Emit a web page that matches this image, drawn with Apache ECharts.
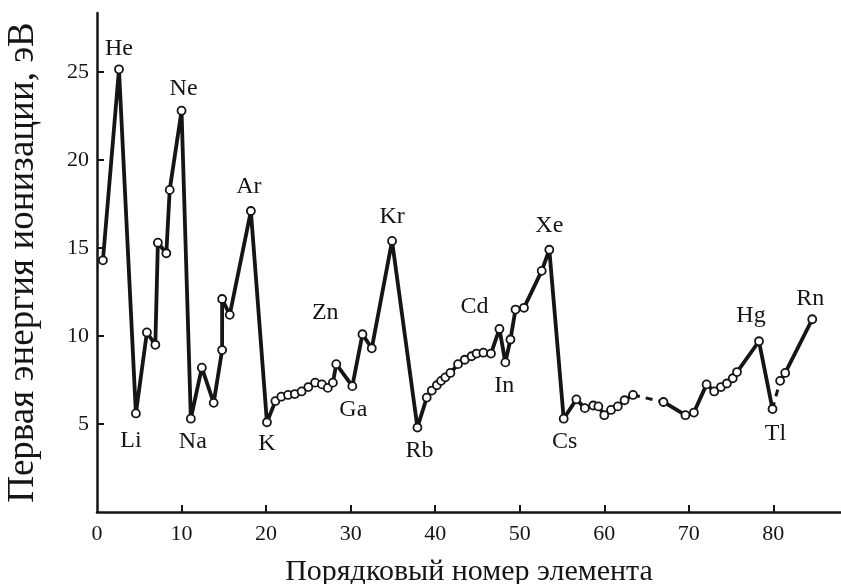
<!DOCTYPE html>
<html>
<head>
<meta charset="utf-8">
<script src="https://cdn.jsdelivr.net/npm/echarts@6/dist/echarts.min.js"></script>
<style>
html,body{margin:0;padding:0;background:#fff;}
#chart{width:841px;height:584px;}
</style>
</head>
<body>
<div id="chart"></div>
<script>
// ---- data ----
const atomicNumber = [
  0.7, 2.6, 4.6, 5.9, 6.9, 7.2, 8.2, 8.6, 10.0,
  11.1, 12.4, 13.8, 14.8, 14.8, 15.7, 18.2,
  20.1, 21.1, 21.8, 22.6, 23.4, 24.2, 25.0, 25.8, 26.6, 27.3, 27.9, 28.3, 30.2, 31.4, 32.5, 34.9,
  37.9, 39.0, 39.6, 40.2, 40.7, 41.2, 41.8, 42.7, 43.5, 44.3, 44.9, 45.7, 46.6, 47.6, 48.3, 48.9, 49.5, 50.5, 52.6, 53.5,
  55.2, 56.7, 57.7, 58.7, 59.3, 60.0, 60.8, 61.6, 62.4, 63.4,
  67.0, 69.6, 70.6, 72.1, 73.0, 73.8, 74.5, 75.2, 75.7, 78.3, 79.9,
  80.8, 81.4, 84.6
];
const ionizationEnergy = [
  14.3, 25.15, 5.6, 10.2, 9.5, 15.3, 14.7, 18.3, 22.8,
  5.3, 8.2, 6.2, 9.2, 12.1, 11.2, 17.1,
  5.1, 6.3, 6.55, 6.65, 6.7, 6.85, 7.1, 7.35, 7.25, 7.05, 7.35, 8.4, 7.15, 10.1, 9.3, 15.4,
  4.8, 6.5, 6.9, 7.2, 7.45, 7.65, 7.9, 8.4, 8.65, 8.85, 9.0, 9.05, 9.0, 10.4, 8.5, 9.8, 11.5, 11.6, 13.7, 14.9,
  5.3, 6.4, 5.9, 6.05, 6.0, 5.5, 5.8, 6.0, 6.35, 6.65,
  6.25, 5.5, 5.65, 7.25, 6.85, 7.1, 7.3, 7.6, 7.95, 9.7, 5.85,
  7.45, 7.9, 10.95
];
const elementLabels = [
  '', 'He', 'Li', '', '', '', '', '', 'Ne',
  'Na', '', '', '', '', '', 'Ar',
  'K', '', '', '', '', '', '', '', '', '', '', 'Zn', 'Ga', '', '', 'Kr',
  'Rb', '', '', '', '', '', '', '', '', '', '', '', '', 'Cd', 'In', '', '', '', '', 'Xe',
  'Cs', '', '', '', '', '', '', '', '', '',
  '', '', '', '', '', '', '', '', '', 'Hg', 'Tl',
  '', '', 'Rn'
];
// indices after which the curve continues as a dashed line
const dashedGapAfter = [61, 72];
const yTicks = [5, 10, 15, 20, 25];
const xTickLabels = [0, 10, 20, 30, 40, 50, 60, 70, 80];
const xTicks = [10, 20, 30, 40, 50, 60, 70, 80];

// ---- styling ----
const FONT = 'Liberation Serif';
const INK = '#151515';
const labelOffset = {
  He: [0, -21], Ne: [2, -22], Ar: [-2, -24], Kr: [0, -24], Xe: [0, -24],
  Cd: [-25, -22], Zn: [-11, -51], Hg: [-8, -26], Rn: [-2, -21],
  Li: [-5, 27], Na: [2, 23], K: [0, 21], Ga: [1, 24], Rb: [2, 23],
  In: [-1, 23], Cs: [1, 23], Tl: [3, 25]
};

function point(i) {
  const item = { value: [atomicNumber[i], ionizationEnergy[i]] };
  const nm = elementLabels[i];
  if (nm) {
    const off = labelOffset[nm] || [0, -22];
    item.label = {
      show: true, formatter: nm, position: 'inside',
      offset: off, align: 'center', verticalAlign: 'middle',
      fontFamily: FONT, fontSize: 24, color: INK
    };
  }
  return item;
}

// split into solid segments
const segments = [];
let start = 0;
dashedGapAfter.concat([atomicNumber.length - 1]).forEach(function (end) {
  const seg = [];
  for (let i = start; i <= end; i++) seg.push(point(i));
  segments.push(seg);
  start = end + 1;
});

const series = [];
dashedGapAfter.forEach(function (i) {
  series.push({
    type: 'line', silent: true, symbol: 'none', z: 1,
    data: [[atomicNumber[i], ionizationEnergy[i]], [atomicNumber[i + 1], ionizationEnergy[i + 1]]],
    lineStyle: { color: INK, width: 3, type: [7, 6] }
  });
});
segments.forEach(function (seg) {
  series.push({
    type: 'line', z: 2,
    data: seg,
    symbol: 'circle', symbolSize: 8, showAllSymbol: true,
    itemStyle: { color: '#fff', borderColor: INK, borderWidth: 1.8 },
    lineStyle: { color: INK, width: 3.8 },
    emphasis: { disabled: true }
  });
});

const chart = echarts.init(document.getElementById('chart'), null, { renderer: 'canvas' });
chart.setOption({
  animation: false,
  backgroundColor: '#fff',
  grid: { left: 97, right: 0, top: 13, bottom: 72, containLabel: false, outerBoundsMode: 'none' },
  xAxis: {
    type: 'value', min: 0, max: 88, interval: 10,
    name: 'Порядковый номер элемента', nameLocation: 'middle', nameGap: 45,
    nameTextStyle: { fontFamily: FONT, fontSize: 30, color: INK },
    axisLine: { show: true, onZero: false, lineStyle: { color: INK, width: 2.5 } },
    axisTick: { show: true, inside: true, length: 7, customValues: xTicks, lineStyle: { color: INK, width: 2 } },
    axisLabel: { show: true, customValues: xTickLabels, margin: 11, fontFamily: FONT, fontSize: 22, color: INK },
    splitLine: { show: false }
  },
  yAxis: {
    type: 'value', min: 0, max: 28.35, interval: 5,
    name: 'Первая энергия ионизации, эВ', nameLocation: 'middle', nameGap: 55,
    nameTextStyle: { fontFamily: FONT, fontSize: 37, color: INK },
    axisLine: { show: true, lineStyle: { color: INK, width: 2.5 } },
    axisTick: { show: true, inside: true, length: 7, customValues: yTicks, lineStyle: { color: INK, width: 2 } },
    axisLabel: { show: true, customValues: yTicks, margin: 8, fontFamily: FONT, fontSize: 22, color: INK },
    splitLine: { show: false }
  },
  series: series
});
</script>
</body>
</html>
